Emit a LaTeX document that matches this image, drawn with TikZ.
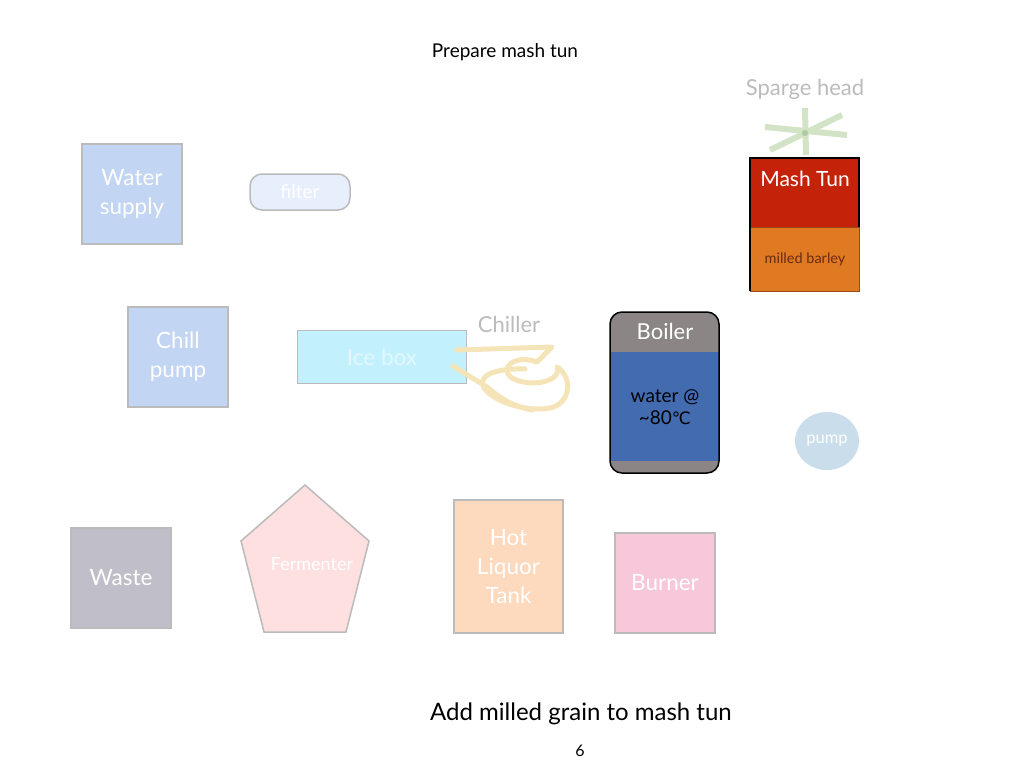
\documentclass[tikz,border=0pt]{standalone}
\usepackage{fontspec}
\setmainfont{Lato}
\newfontfamily\symfont{DejaVu Sans}
\usepackage{tikz}
\usetikzlibrary{shapes.geometric,positioning}
\definecolor{edgegray}{HTML}{BBBBBB}
\definecolor{waterblue}{HTML}{C2D5F2}
\definecolor{filterblue}{HTML}{E8EFFC}
\definecolor{icecyan}{HTML}{C2F0FC}
\definecolor{coilyellow}{HTML}{F5E4B8}
\definecolor{spargegreen}{HTML}{D2E3C6}
\definecolor{spargedot}{HTML}{AECB9E}
\definecolor{boilergray}{HTML}{8B8685}
\definecolor{boilerblue}{HTML}{426BB0}
\definecolor{tunred}{HTML}{C5220A}
\definecolor{tunorange}{HTML}{E07A22}
\definecolor{barleybrown}{HTML}{6B2A12}
\definecolor{pumpblue}{HTML}{C9DDEB}
\definecolor{wastegray}{HTML}{C0BFC9}
\definecolor{fermpink}{HTML}{FDE0DF}
\definecolor{hltpeach}{HTML}{FDD9BD}
\definecolor{burnerpink}{HTML}{F7C7DA}
\tikzstyle{arrow} = [thick,->,>=latex]
\tikzset{
 box/.style
  = {rectangle, draw=edgegray, line width=1.5pt, minimum width=100pt, minimum height=100pt,
     text=white, align=center, inner sep=0pt, font=\fontsize{22.5}{29}\selectfont},
 faint/.style
  = {text=edgegray, font=\fontsize{22}{26}\selectfont},
 coil/.style
  = {draw=coilyellow, line width=5pt, line cap=round, line join=round},
 spray/.style
  = {draw=spargegreen, line width=6pt},
}

\begin{document}
\begin{tikzpicture}[x=1pt, y=-1pt]
\useasboundingbox (0,0) rectangle (1024,768);

% Titles
\node[font=\fontsize{19}{22}\selectfont] (title) at (505,52) {Prepare mash tun};
\node[font=\fontsize{24}{28}\selectfont] (caption) at (581,714) {Add milled grain to mash tun};
\node[font=\fontsize{16}{18}\selectfont] (page) at (580,751) {6};

% Water side
\node[box, fill=waterblue] (water) at (132,194) {Water\\supply};
\node[rectangle, rounded corners=12pt, draw=edgegray, line width=1.5pt, fill=filterblue,
      minimum width=100pt, minimum height=36pt, text=white,
      font=\fontsize{19}{22}\selectfont] (filter) at (300,192) {filter};
\node[box, fill=waterblue] (chillpump) at (178,357) {Chill\\pump};

% Ice box and chiller
\node[box, fill=icecyan, minimum width=169pt, minimum height=53pt, text=white!55!icecyan] (icebox) at (382,357) {Ice box};
\node[faint] (chiller) at (509,324) {Chiller};
\draw[coil] (457,350) -- (552,347) -- (537,362)
  .. controls (515,354) and (498,368) .. (512,378)
  .. controls (530,388) and (562,382) .. (557,367)
  .. controls (574,378) and (570,404) .. (550,408)
  .. controls (530,412) and (496,404) .. (484,388)
  .. controls (476,374) and (500,368) .. (525,369);
\draw[coil] (453,366) -- (487,387) .. controls (500,398) and (512,406) .. (532,410);

% Boiler
\begin{scope}
  \clip[rounded corners=12pt] (610,312) rectangle (719,473);
  \fill[boilergray] (610,312) rectangle (719,473);
  \fill[boilerblue] (610,352) rectangle (719,461);
\end{scope}
\draw[line width=1.5pt, rounded corners=12pt] (610,312) rectangle (719,473);
\node[text=white, font=\fontsize{22}{26}\selectfont] (boiler) at (665,331) {Boiler};
\node[align=center, font=\fontsize{19}{22}\selectfont] (hotwater) at (665,407) {water @\\\textasciitilde80{\symfont\fontsize{17}{22}\selectfont ℃}};

% Sparge head
\node[faint] (sparge) at (805,89) {Sparge head};
\draw[spray] (805,108) -- (806,155);
\draw[spray] (765,127) -- (847,135);
\draw[spray] (770,150) -- (842,115);
\fill[spargedot] (805,133) circle (3pt);

% Mash tun
\node[rectangle, fill=tunorange, draw=barleybrown!60!tunorange, line width=1pt,
      minimum width=109pt, minimum height=64pt, inner sep=0pt,
      text=barleybrown, font=\fontsize{14.5}{16}\selectfont] (barley) at (805,259) {milled barley};
\node[rectangle, fill=tunred, minimum width=109pt, minimum height=69pt, inner sep=0pt] (tun) at (805,192.5) {};
\draw[line width=1.5pt] (750,291) -- (750,158) -- (859,158) -- (859,227);
\node[text=white, font=\fontsize{21}{24}\selectfont] (tunlabel) at (805,179) {Mash Tun};

% Pump
\node[ellipse, fill=pumpblue, minimum width=64pt, minimum height=58pt, inner sep=0pt, text=white,
      font=\fontsize{16.5}{18}\selectfont] (pump) at (827,441) {pump};

% Bottom row
\node[box, fill=wastegray] (waste) at (121,578) {Waste};
\draw[draw=edgegray, line width=1.5pt, fill=fermpink] (305,485) -- (369,541) -- (346,632) -- (264,632) -- (241,541) -- cycle;
\node[text=white, font=\fontsize{18}{20}\selectfont] (fermenter) at (312,564) {Fermenter};
\node[box, fill=hltpeach, minimum width=109pt, minimum height=133pt] (hlt) at (508.5,566.5) {Hot\\Liquor\\Tank};
\node[box, fill=burnerpink] (burner) at (665,583) {Burner};

\end{tikzpicture}
\end{document}
